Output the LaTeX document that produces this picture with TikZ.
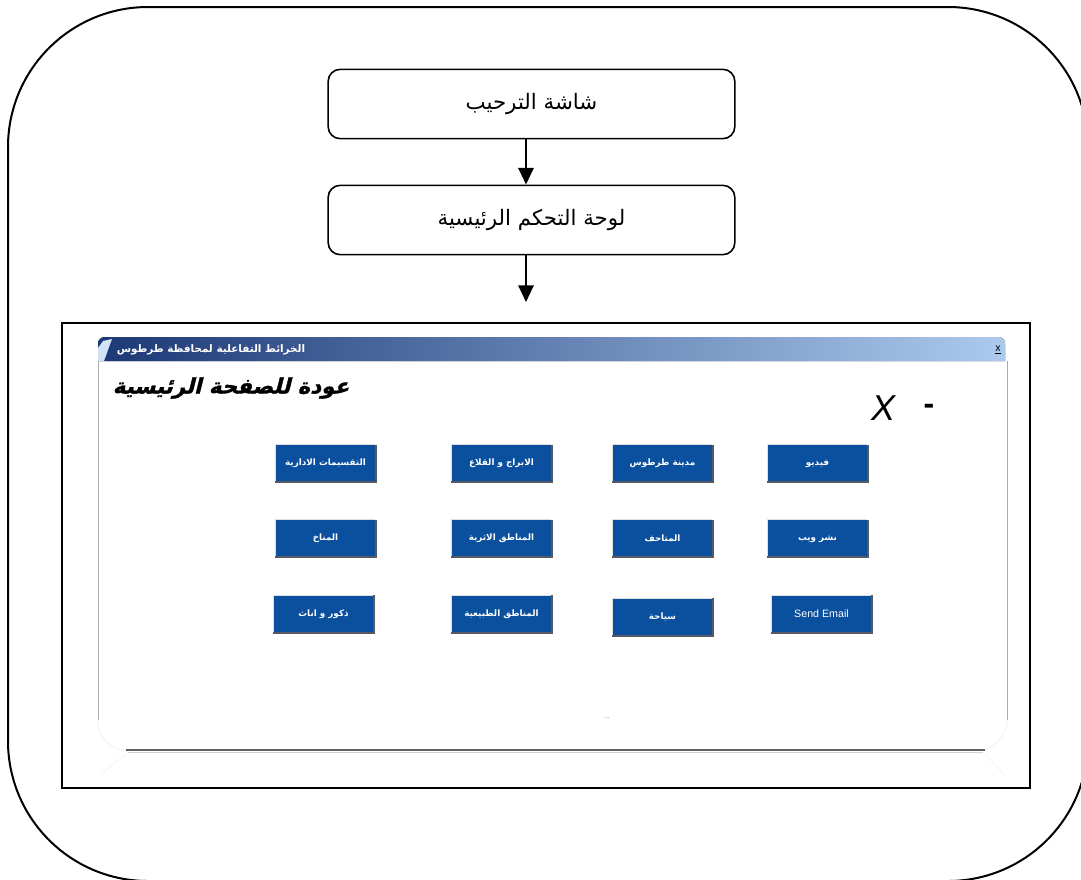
\documentclass[tikz,border=0pt]{standalone}
\usepackage{fontspec}
\usetikzlibrary{arrows.meta}
\TeXXeTstate=1
\newfontfamily\arabicfont[Script=Arabic]{DejaVu Sans}
\newfontfamily\arabichead[Script=Arabic,FakeSlant=0.25,FakeBold=1.5]{DejaVu Sans}
\newfontfamily\latinsans{Liberation Sans}
\newcommand{\artxt}[1]{\beginR #1\endR}
\definecolor{btnblue}{RGB}{10,80,158}
\definecolor{barL}{RGB}{28,56,118}
\definecolor{barR}{RGB}{172,202,238}
\definecolor{btnshadow}{RGB}{85,90,100}
\tikzset{
  frameline/.style={line width=1.5pt, black},
  flowbox/.style={draw, line width=1.2pt, rounded corners=9pt, minimum width=305pt, minimum height=52pt, inner sep=0pt,
    font=\arabicfont\fontsize{16}{18}\selectfont},
  flowarrow/.style={line width=1.5pt, -{Triangle[width=11.5pt,length=12.5pt]}},
  btn/.style={fill=btnblue, minimum width=74pt, minimum height=27.5pt, inner sep=0pt, text=white,
    font=\arabicfont\bfseries\fontsize{6.6}{8}\selectfont},
  winline/.style={gray!65, line width=0.6pt},
}
\begin{document}
\begin{tikzpicture}[x=0.75pt,y=-0.75pt]
\useasboundingbox (0,0) rectangle (1081,879);
% outer rounded frame (runs off the right and bottom edges)
\begin{scope}
  \clip (0,0) rectangle (1081,879);
  \draw[frameline, rounded corners=105pt] (8,7) rectangle (1088,881);
\end{scope}

% flowchart
\node[flowbox] (welcome) at (531.5,104) {\artxt{شاشة الترحيب}};
\node[flowbox] (panel) at (531.5,220) {\artxt{لوحة التحكم الرئيسية}};
\coordinate (ax) at (526,0);
\coordinate (shotin) at (526,302);
\draw[flowarrow] (welcome.south -| ax) -- (panel.north -| ax);
\draw[flowarrow] (panel.south -| ax) -- (shotin);

% screenshot frame
\draw[frameline] (62,323) rectangle (1030,788);

% window title bar
\fill[left color=barL, right color=barR] (98,361) [rounded corners=5pt] -- (98,337) -- (1005,337) [sharp corners] -- (1005,361) -- cycle;
\fill[barR!55!white] (98,361) -- (98,348) -- (103,341) -- (112,339) -- (104,361) -- cycle;
\node[text=white, font=\arabicfont\bfseries\fontsize{7.8}{9}\selectfont, inner sep=0pt] (title) at (211,350) {\artxt{الخرائط التفاعلية لمحافظة طرطوس}};
\node[font=\latinsans\fontsize{8}{9}\selectfont, inner sep=0.5pt] (closex) at (998,350) {\underline{x}};

% window body borders
\draw[winline] (98,361) -- (98,720);
\draw[winline] (1007,361) -- (1007,720);
\draw[gray!12, line width=0.6pt, rounded corners=22pt] (98,720) -- (98,750) -- (1007,750) -- (1007,720);
\draw[gray!75!black, line width=1.1pt] (126,750) -- (985,750);
\draw[gray!35, line width=1pt] (128,752.5) -- (983,752.5);
\draw[gray!8, line width=0.8pt] (126,754) -- (100,775);
\draw[gray!8, line width=0.8pt] (985,754) -- (1005,775);

% heading and window controls
\node[font=\arabichead\bfseries\fontsize{16}{19}\selectfont, inner sep=0pt] (home) at (231,388) {\artxt{عودة للصفحة الرئيسية}};
\node[font=\latinsans\itshape\fontsize{27}{30}\selectfont, inner sep=0pt] (xbtn) at (883,408) {X};
\node[font=\latinsans\bfseries\fontsize{24}{28}\selectfont, inner sep=0pt] (minbtn) at (929,409) {-};
\node[font=\latinsans\fontsize{5}{6}\selectfont, text=gray, inner sep=0pt] (dots) at (607,718) {...};

% buttons
\node[btn] (b11) at (325.5,463.5) {\artxt{التقسيمات الادارية}};
\node[btn] (b12) at (501.5,463.5) {\artxt{الابراج و القلاع}};
\node[btn] (b13) at (662.5,463.5) {\artxt{مدينة طرطوس}};
\node[btn] (b14) at (817.5,463.5) {\artxt{فيديو}};
\node[btn] (b21) at (325.5,538.5) {\artxt{المناخ}};
\node[btn] (b22) at (501.5,538.5) {\artxt{المناطق الاثرية}};
\node[btn] (b23) at (662.5,538.5) {\artxt{المتاحف}};
\node[btn] (b24) at (817.5,538.5) {\artxt{نشر ويب}};
\node[btn] (b31) at (323.5,614) {\artxt{ذكور و اناث}};
\node[btn] (b32) at (501.5,614) {\artxt{المناطق الطبيعية}};
\node[btn] (b33) at (662.5,617) {\artxt{سياحة}};
\node[btn, font=\latinsans\fontsize{8}{9}\selectfont] (b34) at (821.5,614) {Send Email};
\foreach \b in {b11,b12,b13,b14,b21,b22,b23,b24,b31,b32,b33,b34}{
  \draw[gray!25, line width=0.8pt] (\b.south west) -- (\b.north west) -- (\b.north east);
  \draw[btnshadow, line width=1.6pt] ([xshift=-0.8pt]\b.south west) -- ([xshift=0.8pt]\b.south east) -- ([xshift=0.8pt]\b.north east);
}
\end{tikzpicture}
\end{document}
